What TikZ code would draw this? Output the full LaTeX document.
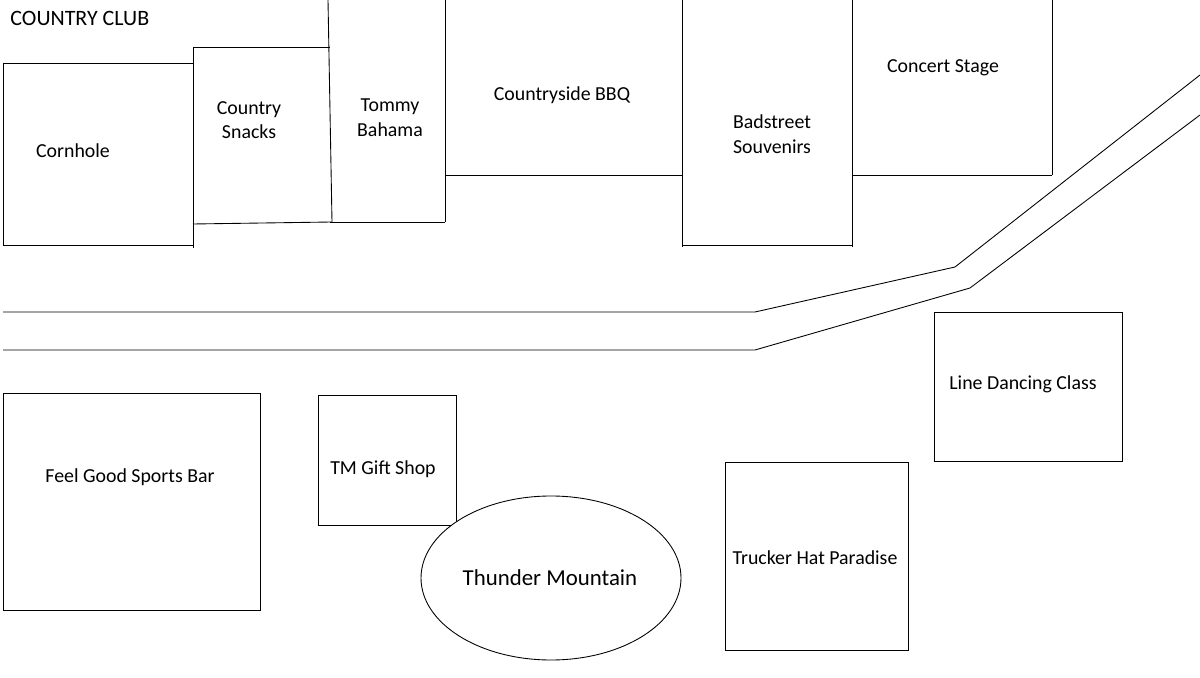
\documentclass[tikz,border=0pt]{standalone}
\usepackage{fontspec}
\setmainfont{Carlito}
\begin{document}
\begin{tikzpicture}[x=0.02cm,y=-0.02cm,line width=0.5pt,
  lbl/.style={font=\fontsize{11.3}{14}\selectfont,align=center,inner sep=0pt}]
\useasboundingbox (0,0) rectangle (1200,678);
\fill[white] (0,0) rectangle (1200,678);
% top booths
\draw (3,63) -- (193,63);
\draw (3,63) -- (3,245) -- (193,245);
\draw (193,47) -- (193,248);
\draw (193,47) -- (330,47);
\draw (193,224) -- (332,222);
\draw (328,0) -- (332,222);
\draw (330,222) -- (445,222);
\draw (445,0) -- (445,222);
\draw (445,175) -- (682,175);
\draw (682,0) -- (682,247);
\draw (682,245) -- (852,245);
\draw (852,0) -- (852,247);
\draw (852,175) -- (1052,175);
\draw (1052,0) -- (1052,175);
% road
\draw (3,312) -- (755,312) -- (955,267) -- (1200,75);
\draw (3,350) -- (755,350) -- (970,288) -- (1200,115);
% lower shapes
\draw (3,393) rectangle (260,610);
\draw (318,395) rectangle (456,525);
\draw (725,462) rectangle (908,650);
\draw (934,312) rectangle (1122,461);
\draw[fill=white] (551,578) ellipse [x radius=130, y radius=82];
% labels
\node[lbl,anchor=west] (cc) at (10,18) {\fontsize{12.5}{15}\selectfont COUNTRY CLUB};
\node[lbl] (corn) at (73,151) {Cornhole};
\node[lbl] (snk) at (249,120) {Country\\Snacks};
\node[lbl] (tb) at (390,118) {Tommy\\Bahama};
\node[lbl] (bbq) at (562,95) {Countryside BBQ};
\node[lbl] (bad) at (772,134) {Badstreet\\Souvenirs};
\node[lbl] (cs) at (943,68) {Concert Stage};
\node[lbl] (fg) at (130,477) {Feel Good Sports Bar};
\node[lbl] (tm) at (383,469) {TM Gift Shop};
\node[lbl] (thm) at (550,578) {\fontsize{13}{15}\selectfont Thunder Mountain};
\node[lbl] (th) at (815,558) {Trucker Hat Paradise};
\node[lbl] (ld) at (1023,384) {Line Dancing Class};
\end{tikzpicture}
\end{document}
